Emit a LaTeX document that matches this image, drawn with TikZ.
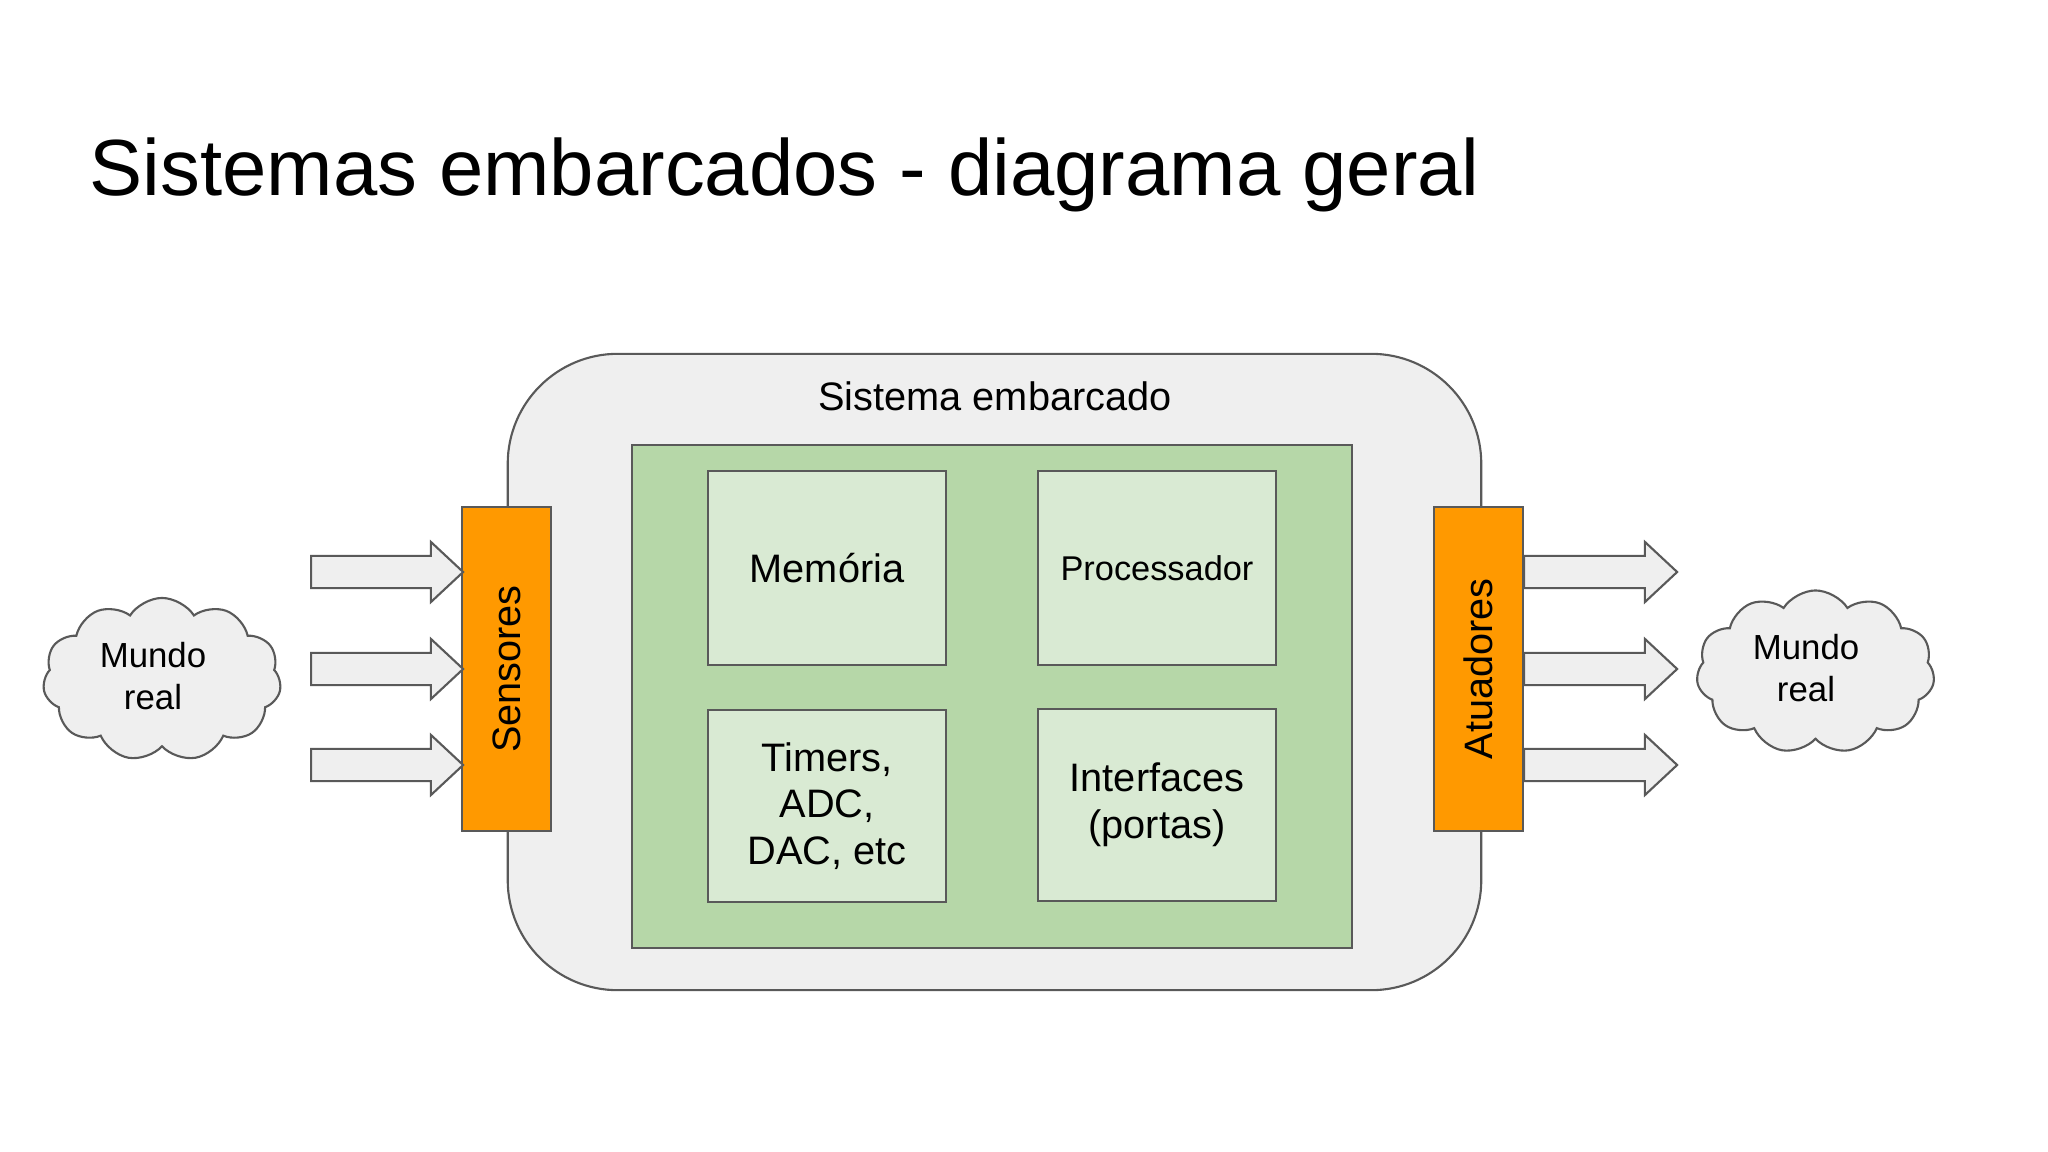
\documentclass[tikz,border=0pt]{standalone}
\usepackage{fontspec}
\setmainfont{Liberation Sans}
\usetikzlibrary{shapes.symbols,shapes.arrows}
\definecolor{strokegray}{HTML}{595959}
\definecolor{lightgray}{HTML}{EFEFEF}
\definecolor{greenbg}{HTML}{B6D7A8}
\definecolor{greenbox}{HTML}{D9EAD3}
\definecolor{orangebar}{HTML}{FF9900}
\tikzset{
  outline/.style={draw=strokegray, line width=0.6pt},
  innerbox/.style={outline, fill=greenbox, minimum width=2.38cm, minimum height=1.94cm, align=center, inner sep=0pt},
  bar/.style={outline, fill=orangebar, minimum width=0.89cm, minimum height=3.24cm, inner sep=0pt},
  barlabel/.style={rotate=90, font=\fontsize{11.27}{14}\selectfont, inner sep=0pt},
  blockarrow/.style={outline, fill=lightgray, single arrow, minimum width=0.58cm, minimum height=1.52cm,
     inner xsep=0pt, inner ysep=0.15cm, anchor=tail,
     single arrow head extend=0.14cm, single arrow tip angle=86},
  worldcloud/.style={outline, fill=lightgray, cloud, cloud puffs=11, cloud puff arc=115, aspect=1.46,
     minimum width=2.38cm, minimum height=1.63cm, inner sep=0pt},
  cloudtext/.style={align=center, inner sep=0pt, font=\fontsize{9.9}{11.9}\selectfont}
}
\begin{document}
\begin{tikzpicture}[x=0.01cm,y=-0.01cm]
\useasboundingbox (0,0) rectangle (2048,1152);
\fill[white] (0,0) rectangle (2048,1152);
% title
\node[anchor=base west, inner sep=0pt, font=\fontsize{22.65}{27}\selectfont] (title) at (89,196) {Sistemas embarcados - diagrama geral};
% outer system
\node[outline, fill=lightgray, rounded corners=1.1cm, minimum width=9.73cm, minimum height=6.36cm] (sys) at (994.5,672) {};
\node[font=\fontsize{11.3}{13.5}\selectfont, inner sep=0pt] (systitle) at (995,396) {Sistema embarcado};
% green core
\node[outline, fill=greenbg, minimum width=7.20cm, minimum height=5.03cm] (core) at (992,696.5) {};
\node[innerbox, font=\fontsize{11.3}{13.3}\selectfont] (mem) at (827,568) {Memória};
\node[innerbox, font=\fontsize{9.77}{11.5}\selectfont] (proc) at (1157,568) {Processador};
\node[innerbox, minimum height=1.92cm, font=\fontsize{11.3}{13.3}\selectfont] (tim) at (827,806) {Timers,\\ADC,\\DAC, etc};
\node[innerbox, minimum height=1.92cm, font=\fontsize{11.3}{13.3}\selectfont] (intf) at (1157,805) {Interfaces\\(portas)};
% sensor / actuator bars
\node[bar] (sens) at (506.5,669) {};
\node[barlabel] (senslbl) at (sens.center) {Sensores};
\node[bar] (atu) at (1478.5,669) {};
\node[barlabel] (atulbl) at (atu.center) {Atuadores};
% arrows in
\node[blockarrow] (a1) at (310,572) {};
\node[blockarrow] (a2) at (310,669) {};
\node[blockarrow] (a3) at (310,765) {};
% arrows out
\node[blockarrow, minimum height=1.53cm] (b1) at (1523,572) {};
\node[blockarrow, minimum height=1.53cm] (b2) at (1523,669) {};
\node[blockarrow, minimum height=1.53cm] (b3) at (1523,765) {};
% clouds
\node[worldcloud] (wl) at (162,679.5) {};
\node[cloudtext] (wltext) at (153,676) {Mundo\\real};
\node[worldcloud] (wr) at (1815.5,672) {};
\node[cloudtext] (wrtext) at (1806,668) {Mundo\\real};
\end{tikzpicture}
\end{document}
